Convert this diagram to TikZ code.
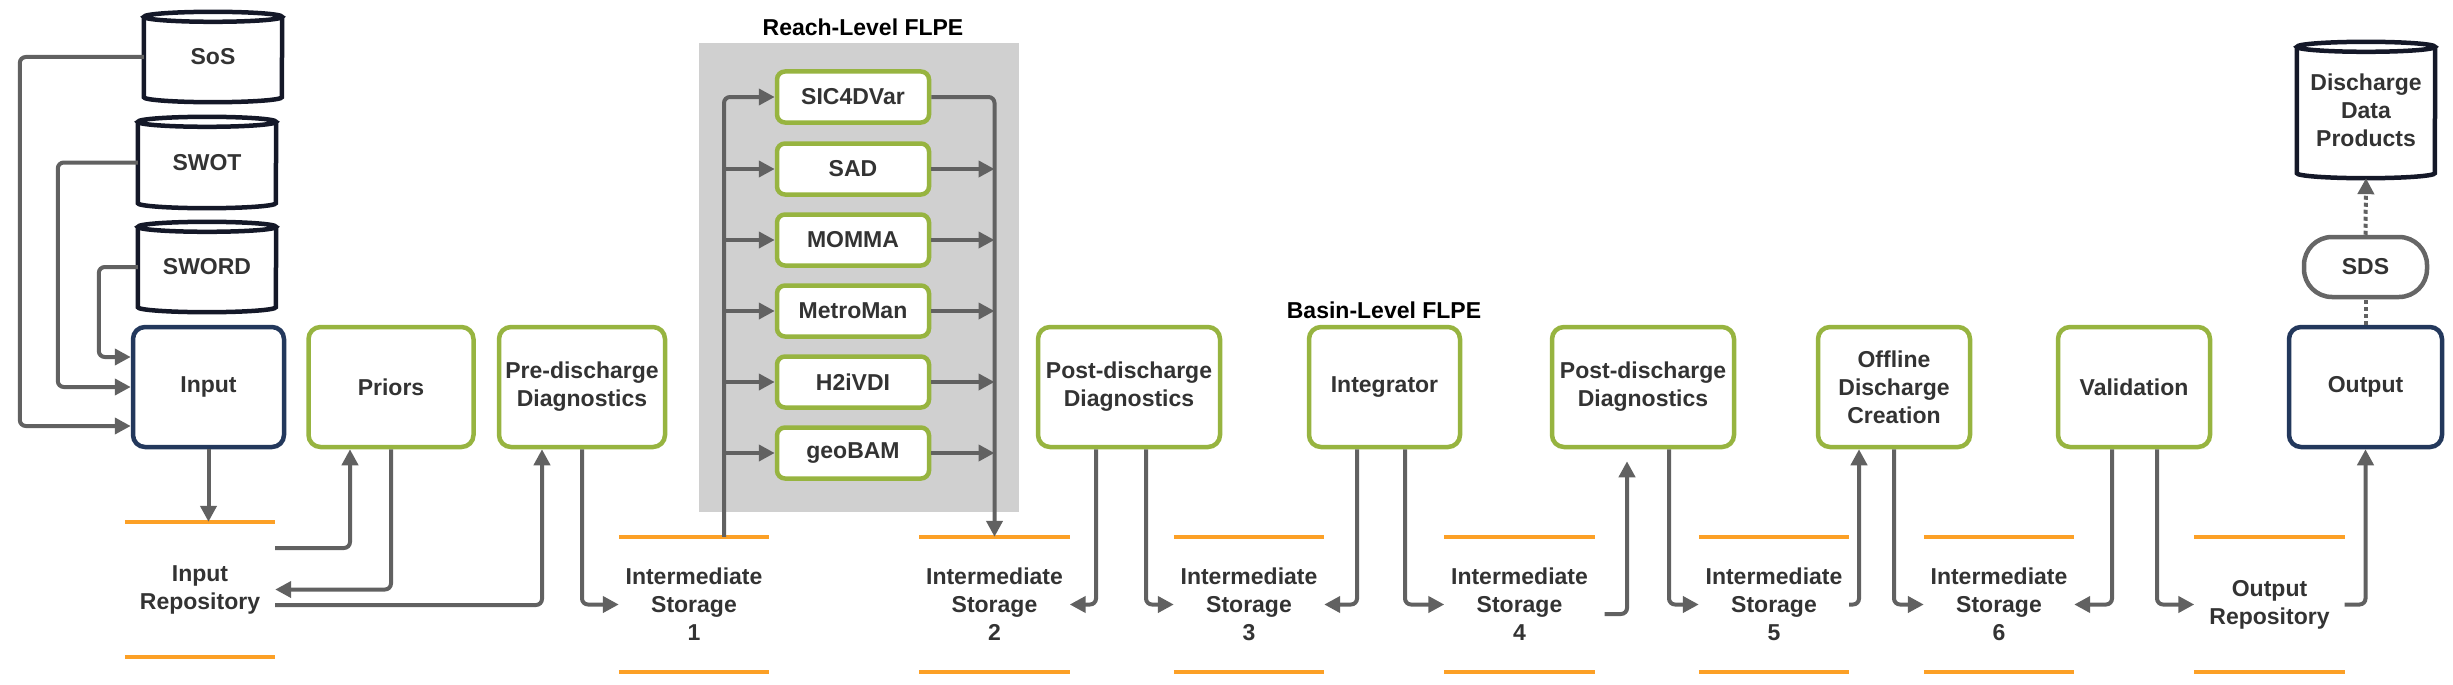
\documentclass[tikz,border=0pt]{standalone}
\usepackage{fontspec}
\setmainfont{Liberation Sans}
\usetikzlibrary{arrows.meta,calc}
\definecolor{grn}{RGB}{151,180,64}
\definecolor{navy}{RGB}{35,56,92}
\definecolor{cylc}{RGB}{20,24,40}
\definecolor{arrc}{RGB}{97,97,97}
\definecolor{orl}{RGB}{252,160,38}
\definecolor{reachbg}{RGB}{208,208,208}
\definecolor{txt}{RGB}{51,51,51}
\definecolor{sdsc}{RGB}{102,102,102}
\newcommand\mylbl{\fontsize{23}{28}\selectfont\bfseries}
\newcommand\dbcyl[1]{%
  \draw[cylline] ($(#1.north west)+(0,5)$) -- ($(#1.south west)+(0,-5)$)
    arc[start angle=180,end angle=360,x radius=69pt,y radius=5pt]
    -- ($(#1.north east)+(0,5)$);
  \draw[cylline] ($(#1.north)+(0,5)$) ellipse[x radius=69pt,y radius=5pt];}
\newcommand\storelines[1]{%
  \draw[orline] (#1.north west) -- (#1.north east) (#1.south west) -- (#1.south east);}
\tikzset{
  every node/.style={inner sep=0pt, align=center, text=txt, font=\mylbl},
  procbox/.style={draw=grn, line width=4.5pt, rounded corners=12pt, fill=white, minimum height=120pt},
  iobox/.style={procbox, draw=navy},
  algbox/.style={draw=grn, line width=4.5pt, rounded corners=8pt, fill=white, minimum width=152pt, minimum height=51pt},
  dbnode/.style={minimum width=138pt},
  cylline/.style={draw=cylc, line width=4.5pt},
  store/.style={minimum width=150pt, minimum height=135pt},
  orline/.style={draw=orl, line width=4pt},
  conn/.style={draw=arrc, line width=4pt, rounded corners=6pt},
  tip/.style={-{Triangle[length=16pt,width=16pt]}},
  arr/.style={conn, tip},
  dotc/.style={draw=arrc, line width=4pt, dash pattern=on 4pt off 3pt},
  titletext/.style={text=black},
}
\begin{document}
\begin{tikzpicture}[x=1pt,y=-1pt]
\useasboundingbox (0,0) rectangle (2453,685);
% reach-level background
\node[fill=reachbg, minimum width=320pt, minimum height=469pt] (reach) at (859,277.5) {};
\node[titletext] (reachT) at (863,27) {Reach-Level FLPE};
\node[titletext] (basinT) at (1384,310) {Basin-Level FLPE};
% databases
\node[dbnode, minimum height=90pt] (sos) at (213,57) {SoS};
\node[dbnode, minimum height=91pt] (swot) at (207,162.5) {SWOT};
\node[dbnode, minimum height=90pt] (sword) at (207,267) {SWORD};
\node[dbnode, minimum height=136pt] (ddp) at (2366,110) {Discharge\\Data\\Products};
\dbcyl{sos}\dbcyl{swot}\dbcyl{sword}\dbcyl{ddp}
% process boxes
\node[iobox, minimum width=151pt] (input) at (208.5,387) {Input};
\node[procbox, minimum width=165pt] (priors) at (391,387) {Priors};
\node[procbox, minimum width=166pt] (pre) at (582,387) {Pre-discharge\\Diagnostics};
\node[procbox, minimum width=182pt] (post1) at (1129,387) {Post-discharge\\Diagnostics};
\node[procbox, minimum width=151pt] (integ) at (1384.5,387) {Integrator};
\node[procbox, minimum width=182pt] (post2) at (1643,387) {Post-discharge\\Diagnostics};
\node[procbox, minimum width=152pt] (offline) at (1894,387) {Offline\\Discharge\\Creation};
\node[procbox, minimum width=152pt] (valid) at (2134,387) {Validation};
\node[iobox, minimum width=153pt] (output) at (2365.5,387) {Output};
\node[draw=sdsc, line width=4.5pt, rounded corners=28pt, minimum width=123pt, minimum height=60pt] (sds) at (2365.5,267) {SDS};
% algorithms
\node[algbox] (sic) at (853,97) {SIC4DVar};
\node[algbox] (sad) at (853,169) {SAD};
\node[algbox] (momma) at (853,240) {MOMMA};
\node[algbox] (metro) at (853,311) {MetroMan};
\node[algbox] (h2i) at (853,382) {H2iVDI};
\node[algbox] (geo) at (853,453) {geoBAM};
% storages
\node[store] (inrepo) at (200,589.5) {Input\\Repository};
\node[store] (s1) at (694,604.5) {Intermediate\\Storage\\1};
\node[store] (s2) at (994.5,604.5) {Intermediate\\Storage\\2};
\node[store] (s3) at (1249,604.5) {Intermediate\\Storage\\3};
\node[store] (s4) at (1519.5,604.5) {Intermediate\\Storage\\4};
\node[store] (s5) at (1774,604.5) {Intermediate\\Storage\\5};
\node[store] (s6) at (1999,604.5) {Intermediate\\Storage\\6};
\node[store] (outrepo) at (2269.5,604.5) {Output\\Repository};
\storelines{inrepo}\storelines{s1}\storelines{s2}\storelines{s3}
\storelines{s4}\storelines{s5}\storelines{s6}\storelines{outrepo}
% inputs
\draw[arr] (sos.west) -- ++(-124,0) |- ($(input.west)+(0,39)$);
\draw[arr] (swot.west) -- ++(-80,0) |- (input.west);
\draw[arr] (sword.west) -- ++(-39,0) |- ($(input.west)+(0,-30)$);
\draw[arr] (input.south) -- (input.south |- inrepo.north);
\draw[arr] ($(inrepo.east)+(0,-41.5)$) -| ($(priors.south)+(-41,0)$);
\draw[arr] (priors.south) |- (inrepo.east);
\draw[arr] ($(inrepo.east)+(0,15.5)$) -| ($(pre.south)+(-40,0)$);
\draw[arr] (pre.south) |- (s1.west);
% reach-level buses
\coordinate (busL) at ($(s1.north)+(30,0)$);
\draw[arr] (busL) |- (sic.west);
\foreach \n in {sad,momma,metro,h2i,geo} \draw[arr] (busL |- \n.west) -- (\n.west);
\draw[arr] (sic.east) -| (s2.north);
\foreach \n in {sad,momma,metro,h2i,geo} \draw[arr] (\n.east) -- (\n.east -| s2.north);
% downstream
\draw[arr] ($(post1.south)+(-33,0)$) |- (s2.east);
\draw[arr] ($(post1.south)+(17,0)$) |- (s3.west);
\draw[arr] ($(integ.south)+(-27.5,0)$) |- (s3.east);
\draw[arr] ($(integ.south)+(20.5,0)$) |- (s4.west);
\draw[arr, shorten >=12pt] ($(s4.east)+(10,9.5)$) -| ($(post2.south)+(-16,0)$);
\draw[arr] ($(post2.south)+(26,0)$) |- (s5.west);
\draw[arr] (s5.east) -| ($(offline.south)+(-35,0)$);
\draw[arr] (offline.south) |- (s6.west);
\draw[arr] ($(valid.south)+(-22,0)$) |- (s6.east);
\draw[arr] ($(valid.south)+(23,0)$) |- (outrepo.west);
\draw[arr] (outrepo.east) -| (output.south);
\draw[dotc] (output.north) -- (sds.south);
\draw[dotc, tip] (sds.north) -- (ddp.south);
\end{tikzpicture}
\end{document}
